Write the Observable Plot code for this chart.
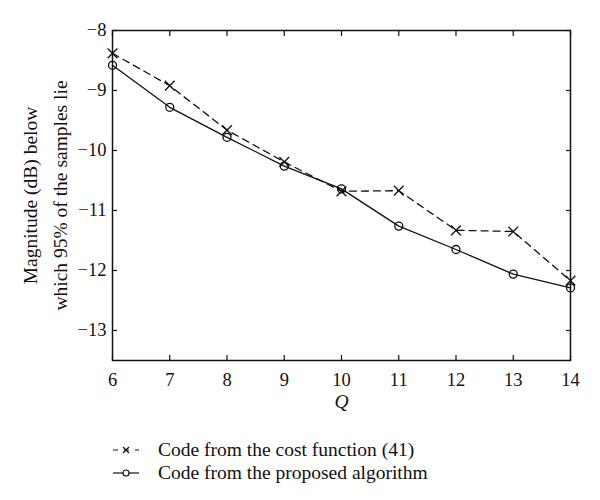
<!DOCTYPE html>
<html>
<head>
<meta charset="utf-8">
<script src="https://cdn.jsdelivr.net/npm/d3@7"></script>
<script src="https://cdn.jsdelivr.net/npm/@observablehq/plot@0.6"></script>
<style>
  body { margin: 0; background: white; font-family: "Liberation Serif", "DejaVu Serif", serif; }
  #legend { position: relative; margin-left: 112px; margin-top: 18px; font-family: "Liberation Serif", serif; font-size: 19.5px; line-height: 23px; color: #111; }
  .item { display: flex; align-items: center; }
  .item svg { margin-right: 18px; }
</style>
</head>
<body>
<div id="chart"></div>
<div id="legend"></div>
<script>
const Q = [6, 7, 8, 9, 10, 11, 12, 13, 14];
const costFunction = [-8.38, -8.92, -9.66, -10.19, -10.68, -10.67, -11.33, -11.35, -12.17];
const proposed = [-8.58, -9.28, -9.78, -10.26, -10.64, -11.26, -11.65, -12.06, -12.29];
const xTicks = [6, 7, 8, 9, 10, 11, 12, 13, 14];
const yTicks = [-13, -12, -11, -10, -9, -8];
const seriesNames = ["Code from the cost function (41)", "Code from the proposed algorithm"];
const yLabel = "Magnitude (dB) below\nwhich 95% of the samples lie";

const dataCost = Q.map((q, i) => ({q, v: costFunction[i]}));
const dataProp = Q.map((q, i) => ({q, v: proposed[i]}));

const FS = 18.5;
const chart = Plot.plot({
  width: 600,
  height: 420,
  marginLeft: 112,
  marginRight: 30,
  marginTop: 30,
  marginBottom: 60,
  style: {fontFamily: "'Liberation Serif', serif", fontSize: "18px", background: "white", color: "#111"},
  x: {domain: [6, 14]},
  y: {domain: [-13.5, -8]},
  marks: [
    Plot.axisX(xTicks, {anchor: "bottom", tickSize: -5, tickPadding: 17, tickFormat: "d", fontSize: FS, label: null, strokeWidth: 1.2}),
    Plot.axisX(xTicks, {anchor: "top", tickSize: -5, tickFormat: () => "", label: null, strokeWidth: 1.2}),
    Plot.axisY(yTicks, {anchor: "left", tickSize: -5, tickPadding: 11, tickFormat: "d", fontSize: FS, label: null, strokeWidth: 1.2}),
    Plot.axisY(yTicks, {anchor: "right", tickSize: -5, tickFormat: () => "", label: null, strokeWidth: 1.2}),
    Plot.frame({stroke: "#111", strokeWidth: 1.5}),
    Plot.line(dataCost, {x: "q", y: "v", stroke: "#111", strokeWidth: 1.3, strokeDasharray: "7,5"}),
    Plot.dot(dataCost, {x: "q", y: "v", symbol: "times", r: 4.5, stroke: "#111", strokeWidth: 1.3}),
    Plot.line(dataProp, {x: "q", y: "v", stroke: "#111", strokeWidth: 1.3}),
    Plot.dot(dataProp, {x: "q", y: "v", symbol: "circle", r: 4, stroke: "#111", fill: "none", strokeWidth: 1.3}),
    Plot.text(["Q"], {frameAnchor: "bottom", dy: 47, fontStyle: "italic", fontSize: 19.5, fill: "#111"}),
    Plot.text([yLabel], {frameAnchor: "left", textAnchor: "middle", lineAnchor: "middle", dx: -70, rotate: -90, lineHeight: 1.55, fontSize: 19.5, fill: "#111"})
  ]
});
document.getElementById("chart").appendChild(chart);

const legend = document.getElementById("legend");
const swatches = [
  `<svg width="28" height="12"><line x1="1" y1="6" x2="27" y2="6" stroke="#111" stroke-width="1.2" stroke-dasharray="5,6"/><path d="M11,3 L17,9 M17,3 L11,9" stroke="#111" stroke-width="1.2"/></svg>`,
  `<svg width="28" height="12"><line x1="1" y1="6" x2="27" y2="6" stroke="#111" stroke-width="1.2"/><circle cx="14" cy="6" r="3" fill="white" stroke="#111" stroke-width="1.2"/></svg>`
];
seriesNames.forEach((name, i) => {
  const div = document.createElement("div");
  div.className = "item";
  div.innerHTML = swatches[i] + `<span>${name}</span>`;
  legend.appendChild(div);
});
</script>
</body>
</html>
